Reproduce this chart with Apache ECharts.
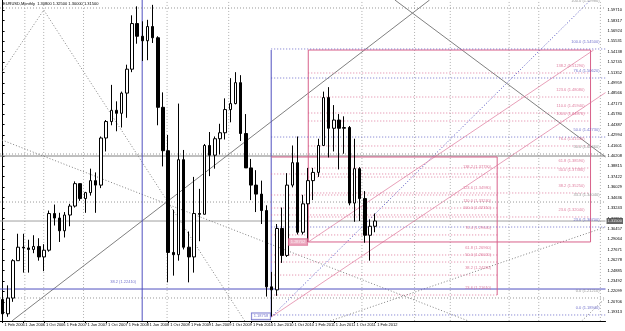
<!DOCTYPE html>
<html>
<head>
<meta charset="utf-8">
<script src="https://cdn.jsdelivr.net/npm/echarts@6/dist/echarts.min.js"></script>
<style>
html, body { margin: 0; padding: 0; background: #fff; }
#chart { width: 625px; height: 331px; }
</style>
</head>
<body>
<div id="chart"></div>
<script>
// EURUSD monthly bars, Feb 2006 .. Feb 2012
const monthNames = ['Jan','Feb','Mar','Apr','May','Jun','Jul','Aug','Sep','Oct','Nov','Dec'];
const months = [
  '2006.02','2006.03','2006.04','2006.05','2006.06','2006.07','2006.08','2006.09','2006.10','2006.11','2006.12',
  '2007.01','2007.02','2007.03','2007.04','2007.05','2007.06','2007.07','2007.08','2007.09','2007.10','2007.11','2007.12',
  '2008.01','2008.02','2008.03','2008.04','2008.05','2008.06','2008.07','2008.08','2008.09','2008.10','2008.11','2008.12',
  '2009.01','2009.02','2009.03','2009.04','2009.05','2009.06','2009.07','2009.08','2009.09','2009.10','2009.11','2009.12',
  '2010.01','2010.02','2010.03','2010.04','2010.05','2010.06','2010.07','2010.08','2010.09','2010.10','2010.11','2010.12',
  '2011.01','2011.02','2011.03','2011.04','2011.05','2011.06','2011.07','2011.08','2011.09','2011.10','2011.11','2011.12',
  '2012.01','2012.02'
];
// open, high, low, close
const candles = [
  [1.2100,1.2150,1.1860,1.1910],[1.1910,1.2290,1.1870,1.2120],[1.2120,1.2640,1.2070,1.2620],[1.2620,1.2980,1.2620,1.2800],
  [1.2800,1.2980,1.2460,1.2790],[1.2790,1.2900,1.2460,1.2770],[1.2770,1.2960,1.2720,1.2810],[1.2810,1.2920,1.2620,1.2670],
  [1.2670,1.2840,1.2480,1.2760],[1.2760,1.3290,1.2740,1.3250],[1.3250,1.3370,1.3090,1.3190],
  [1.3190,1.3260,1.2870,1.3020],[1.3020,1.3270,1.2930,1.3230],[1.3230,1.3380,1.3080,1.3350],[1.3350,1.3680,1.3330,1.3650],
  [1.3650,1.3650,1.3420,1.3450],[1.3450,1.3540,1.3260,1.3530],[1.3530,1.3850,1.3490,1.3690],[1.3690,1.3800,1.3260,1.3630],
  [1.3630,1.4280,1.3590,1.4260],[1.4260,1.4500,1.4080,1.4480],[1.4480,1.4970,1.4430,1.4630],[1.4630,1.4750,1.4350,1.4590],
  [1.4590,1.4880,1.4400,1.4860],[1.4860,1.5240,1.4530,1.5180],[1.5180,1.5900,1.5140,1.5790],[1.5790,1.6020,1.5520,1.5620],
  [1.5620,1.5820,1.5290,1.5560],[1.5560,1.5840,1.5300,1.5750],[1.5750,1.6040,1.5530,1.5600],[1.5600,1.5620,1.4430,1.4670],
  [1.4670,1.4870,1.3880,1.4090],[1.4090,1.4300,1.2330,1.2730],[1.2730,1.3300,1.2420,1.2700],[1.2700,1.4720,1.2620,1.3970],
  [1.3970,1.4100,1.2770,1.2800],[1.2800,1.3010,1.2330,1.2670],[1.2670,1.3740,1.2460,1.3250],[1.3250,1.3580,1.2880,1.3240],
  [1.3240,1.4180,1.3240,1.4160],[1.4160,1.4340,1.3750,1.4030],[1.4030,1.4280,1.3850,1.4250],[1.4250,1.4450,1.4040,1.4330],
  [1.4330,1.4790,1.4240,1.4640],[1.4640,1.5060,1.4470,1.4720],[1.4720,1.5140,1.4710,1.5000],[1.5000,1.5100,1.4220,1.4320],
  [1.4320,1.4580,1.3860,1.3860],[1.3860,1.3980,1.3430,1.3630],[1.3630,1.3830,1.3270,1.3510],[1.3510,1.3690,1.3110,1.3290],
  [1.3290,1.3360,1.2140,1.2270],[1.2270,1.2470,1.1876,1.2230],[1.2230,1.3110,1.2150,1.3050],[1.3050,1.3330,1.2590,1.2690],
  [1.2690,1.3790,1.2670,1.3630],[1.3630,1.4160,1.3600,1.3930],[1.3930,1.4280,1.2970,1.3000],[1.3000,1.3500,1.2970,1.3380],
  [1.3380,1.3860,1.2870,1.3690],[1.3690,1.3860,1.3430,1.3800],[1.3800,1.4250,1.3740,1.4160],[1.4160,1.4880,1.4160,1.4800],
  [1.4800,1.4940,1.4000,1.4390],[1.4390,1.4700,1.4080,1.4500],[1.4500,1.4580,1.3840,1.4390],[1.4390,1.4550,1.4050,1.4400],
  [1.4400,1.4420,1.3360,1.3390],[1.3390,1.4250,1.3140,1.3850],[1.3850,1.3870,1.3150,1.3450],[1.3450,1.3550,1.2860,1.2960],
  [1.2960,1.3170,1.2620,1.3080],[1.3080,1.3250,1.3000,1.3150]
];
const emptyBars = 44; // chart shift space to the right
const priceTicks = [
  1.59710,1.58317,1.56924,1.55531,1.54138,1.52745,1.51352,1.49959,1.48566,1.47173,
  1.45780,1.44387,1.42994,1.41601,1.40208,1.38815,1.37422,1.36029,1.34636,1.33243,
  1.31850,1.30457,1.29064,1.27671,1.26278,1.24885,1.23492,1.22099,1.20706,1.19313
];
const bidPrice = 1.3150;

// drawn objects, in [bar index, price]
const greyLines = [
  [[1.8, 1.1814], [82.5, 1.6105]],
  [[75.8, 1.6105], [116.5, 1.4006]],
  [[-0.5, 1.4019], [116.5, 1.4019]]
];
const greyDotted = [
  [[-0.12, 1.5142], [7.95, 1.5971], [46.8, 1.1814]],
  [[-0.12, 1.4233], [90.0, 1.1814]],
  [[63.3, 1.1814], [116.5, 1.3070]],
  [[111.9, 1.1814], [116.5, 1.2121]]
];
const vGrid = [4.3, 7.95, 15.64, 31.78, 43.69, 69.43, 79.6, 86.5, 97.87, 103.6, 115.5];
const blueLines = [
  [[26.97, 1.1814], [26.97, 1.6105]],
  [[51.9, 1.1867], [51.9, 1.5436]],
  [[-0.5, 1.2241], [116.5, 1.2241]]
];
const blueDotted = [
  [[51.9, 1.1867], [113.6, 1.6105]]
];
const pinkLines = [
  [[59.06, 1.2870], [59.06, 1.5436], [113.6, 1.5436], [113.6, 1.2870], [59.06, 1.2870]],
  [[51.9, 1.4006], [95.56, 1.4006], [95.56, 1.2161]]
];
const pinkTrend = [
  [[59.06, 1.2870], [114.2, 1.5436]],
  [[51.9, 1.1867], [116.5, 1.4867]]
];
// fibo levels: [start, end, price, name]
const fiboA = [
  [59.06,113.6,1.5129,'138.2'],[59.06,113.6,1.4808,'123.6'],[59.06,113.6,1.4594,'110.0'],
  [59.06,113.6,1.4487,'100.0'],[59.06,113.6,1.4153,'76.4'],[59.06,113.6,1.3859,'61.8'],
  [59.06,113.6,1.3738,'50.0'],[59.06,113.6,1.3525,'38.2'],[59.06,113.6,1.3204,'23.6']
];
const fiboB = [
  [51.9,95.56,1.3779,'138.2'],[51.9,95.56,1.3498,'123.6'],[51.9,95.56,1.3324,'110.0'],
  [51.9,95.56,1.3231,'100.0'],[51.9,95.56,1.2964,'76.4'],[51.9,95.56,1.2696,'61.8'],
  [51.9,95.56,1.2602,'50.0'],[51.9,95.56,1.2428,'38.2'],[51.9,95.56,1.2161,'23.6']
];
const fiboBlue = [
  [51.9,116.5,1.5450,'100.0'],[51.9,116.5,1.5062,'76.4'],[51.9,116.5,1.4273,'50.0'],
  [51.9,116.5,1.3070,'23.6'],[51.9,116.5,1.1894,'0.0']
];
const fiboGrey = [
  [-0.5,116.5,1.5998,'100.0'],[-0.5,116.5,1.4046,'50.0'],[-0.5,116.5,1.3404,'33.3'],
  [-0.5,116.5,1.2121,'0.0']
];
// labels sitting on a line: [bar index, price, text]
const blueTags = [[26.97, 1.2241, '38.2 (1.22410)']];
// price boxes: [bar index, price, text, colour]
const priceBoxes = [
  [51.9, 1.18758, '1.18758', 'blue'],
  [59.06, 1.28702, '1.28702', 'pink']
];

const pink = '#d8608a', blue = '#5050c0', grey = '#808080';

const cats = months.concat(new Array(emptyBars).fill(''));
const nBars = cats.length;

function lineSeries(segs, color, type, opacity) {
  return segs.map(pts => ({
    type: 'line', xAxisIndex: 1, yAxisIndex: 0, data: pts, symbol: 'none', silent: true,
    lineStyle: { color: color, width: 1, type: type || 'solid', opacity: opacity || 1 }, z: 3
  }));
}
function tagSeries(tags, color) {
  return {
    type: 'scatter', xAxisIndex: 1, yAxisIndex: 0, symbolSize: 0, silent: true,
    data: tags.map(t => ({
      value: [t[0], t[1]],
      label: { show: true, position: 'insideBottomRight', offset: [-1, 0], formatter: t[2],
        color: color, fontSize: 4, fontFamily: 'Arial' }
    })),
    z: 4
  };
}
function fiboSeries(levels, color) {
  const segs = levels.map(l => [[l[0], l[2]], [l[1], l[2]]]);
  const out = lineSeries(segs, color, [1, 2], 0.8);
  out.push(tagSeries(levels.map(l => [l[1], l[2], l[3] + ' (' + l[2].toFixed(5) + ')']), color));
  return out;
}

const chart = echarts.init(document.getElementById('chart'), null, { renderer: 'canvas' });

const option = {
  animation: false,
  backgroundColor: '#fff',
  grid: { left: -2, right: 18, top: 0, bottom: 10 },
  xAxis: [
    {
      type: 'category', data: cats, boundaryGap: true,
      axisLine: { lineStyle: { color: '#000', width: 1 } },
      axisTick: { show: true, length: 2, alignWithLabel: true, interval: (i) => i % 4 === 0 && i < months.length, lineStyle: { color: '#000' } },
      axisLabel: {
        interval: (i) => i % 4 === 0 && i < months.length,
        showMinLabel: true, hideOverlap: false,
        formatter: (v) => {
          if (!v) return '';
          const p = v.split('.');
          return '1 ' + monthNames[+p[1] - 1] + ' ' + p[0];
        },
        fontSize: 4, color: '#000', align: 'left', margin: 2, padding: [0, 0, 0, 2], fontFamily: 'Arial'
      },
      splitLine: { show: false }
    },
    { type: 'value', min: -0.5, max: nBars - 0.5, show: false }
  ],
  yAxis: {
    type: 'value', position: 'right', min: 1.18135, max: 1.61048, scale: true,
    axisLine: { show: true, lineStyle: { color: '#000' } },
    axisTick: { show: true, length: 2, customValues: priceTicks, lineStyle: { color: '#000' } },
    axisLabel: { customValues: priceTicks, formatter: (v) => v.toFixed(5), fontSize: 4, color: '#000', margin: 2, fontFamily: 'Arial' },
    splitLine: { show: false }
  },
  graphic: [{
    type: 'text', left: 3, top: 2,
    style: { text: 'EURUSD,Monthly  1.30800 1.32500 1.30000 1.31500', fontSize: 4, fill: '#000', fontFamily: 'Arial' }
  }],
  series: [
    {
      type: 'candlestick', xAxisIndex: 0, yAxisIndex: 0, barWidth: 3,
      data: candles.map(c => [c[0], c[3], c[2], c[1]]),
      itemStyle: { color: '#fff', color0: '#000', borderColor: '#000', borderColor0: '#000', borderWidth: 1 },
      z: 5, silent: true
    },
    {
      type: 'line', xAxisIndex: 1, yAxisIndex: 0, symbol: 'none', silent: true,
      data: [[-0.5, bidPrice], [nBars - 0.5, bidPrice]],
      lineStyle: { color: '#a0a0a0', width: 1 }, z: 2
    },
    {
      type: 'scatter', xAxisIndex: 1, yAxisIndex: 0, symbolSize: 0, silent: true, z: 10,
      data: [[nBars - 0.5, bidPrice]],
      label: { show: true, position: 'right', distance: 1, formatter: () => bidPrice.toFixed(5),
        backgroundColor: '#404040', color: '#fff', fontSize: 4, padding: [1, 1], fontFamily: 'Arial' }
    },
    {
      type: 'scatter', xAxisIndex: 1, yAxisIndex: 0, symbolSize: 0, silent: true, z: 10,
      data: priceBoxes.map(b => ({
        value: [b[0], b[1]],
        label: { show: true, position: 'left', distance: 1, formatter: b[2],
          color: b[3] === 'blue' ? blue : '#fff',
          backgroundColor: b[3] === 'blue' ? '#fff' : '#e89ab4',
          borderColor: b[3] === 'blue' ? blue : pink, borderWidth: 0.8,
          fontSize: 4, padding: [1, 2], fontFamily: 'Arial' }
      }))
    },
    ...lineSeries(vGrid.map(v => [[v, 1.1814], [v, 1.6105]]), '#b0b0b0', [1, 2]),
    ...lineSeries(greyLines, grey),
    ...lineSeries(greyDotted, grey, [1, 2]),
    ...lineSeries(blueLines, blue),
    ...lineSeries(blueDotted, blue, [1, 2]),
    ...lineSeries(pinkLines, pink),
    ...lineSeries(pinkTrend, pink, 'solid', 0.6),
    tagSeries(blueTags, blue),
    ...fiboSeries(fiboA, pink),
    ...fiboSeries(fiboB, pink),
    ...fiboSeries(fiboBlue, blue),
    ...fiboSeries(fiboGrey, grey)
  ]
};
chart.setOption(option);
</script>
</body>
</html>
